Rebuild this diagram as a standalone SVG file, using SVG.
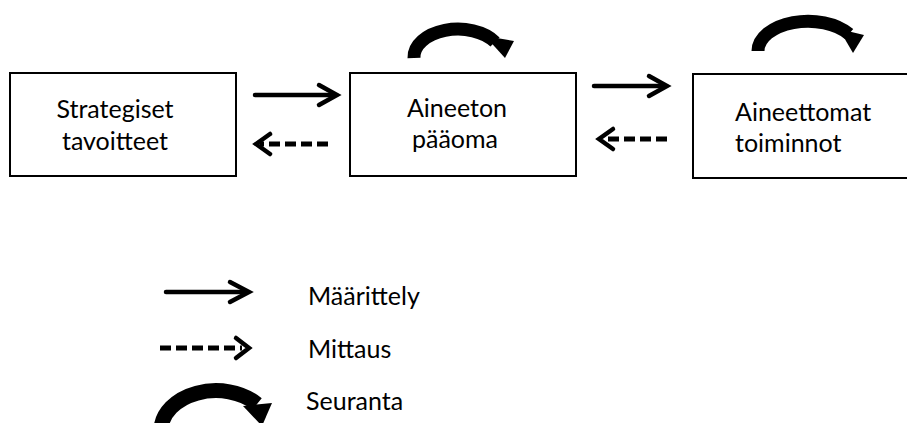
<svg xmlns="http://www.w3.org/2000/svg" width="907" height="423" viewBox="0 0 907 423">
<style>
.box{fill:#fff;stroke:#000;stroke-width:2}
.lbl{font-family:Lato,"Liberation Sans",sans-serif;font-size:25px;fill:#000}
.mid{text-anchor:middle}
.ln{fill:none;stroke:#000;stroke-width:4.5;stroke-linecap:round}
.dash{fill:none;stroke:#000;stroke-width:5;stroke-dasharray:11 5}
.chev{fill:none;stroke:#000;stroke-width:4.5;stroke-linecap:round;stroke-linejoin:miter}
.arc{fill:none;stroke:#000;stroke-width:13}
.head{fill:#000}
</style>
<rect width="907" height="423" fill="#fff"/>
<g id="node-strategiset">
<rect class="box" x="10" y="73" width="226" height="103"/>
<text class="lbl mid" x="115" y="118">Strategiset</text>
<text class="lbl mid" x="115" y="150">tavoitteet</text>
</g>
<g id="node-paaoma">
<rect class="box" x="350" y="73" width="226" height="103"/>
<text class="lbl mid" x="457" y="117">Aineeton</text>
<text class="lbl mid" x="455" y="148">pääoma</text>
<path class="arc" d="M414,58 A44,28 0 0 1 495,42"/>
<polygon class="head" points="485,36 514,41 505,58"/>
</g>
<g id="node-toiminnot">
<rect class="box" x="693" y="74" width="230" height="104"/>
<text class="lbl" x="735" y="121">Aineettomat</text>
<text class="lbl" x="735" y="152">toiminnot</text>
<path class="arc" d="M758,51 A50,30 0 0 1 849,34"/>
<polygon class="head" points="839,29 864,35 853,53"/>
</g>
<g id="connectors">
<line class="ln" x1="255" y1="95" x2="335" y2="95"/>
<polyline class="chev" points="319,85 337,95 319,105"/>
<line class="dash" x1="328" y1="144" x2="260" y2="144"/>
<polyline class="chev" points="270,134 256,144 270,154"/>
<line class="ln" x1="594" y1="86" x2="665" y2="86"/>
<polyline class="chev" points="649,76 667,86 649,96"/>
<line class="dash" x1="667" y1="139" x2="603" y2="139"/>
<polyline class="chev" points="613,129 599,139 613,149"/>
</g>
<g id="legend">
<line class="ln" x1="166" y1="292" x2="247" y2="292"/>
<polyline class="chev" points="230,282 249,292 230,302"/>
<text class="lbl" x="308" y="305">Määrittely</text>
<line class="dash" x1="160" y1="348" x2="242" y2="348"/>
<polyline class="chev" points="236,338 249,348 236,358"/>
<text class="lbl" x="308" y="358">Mittaus</text>
<path fill="none" stroke="#000" stroke-width="15" d="M161,430 A55,40 0 0 1 257,404"/>
<polygon class="head" points="243,406 272,403 262,426"/>
<text class="lbl" x="306" y="410">Seuranta</text>
</g>
</svg>
